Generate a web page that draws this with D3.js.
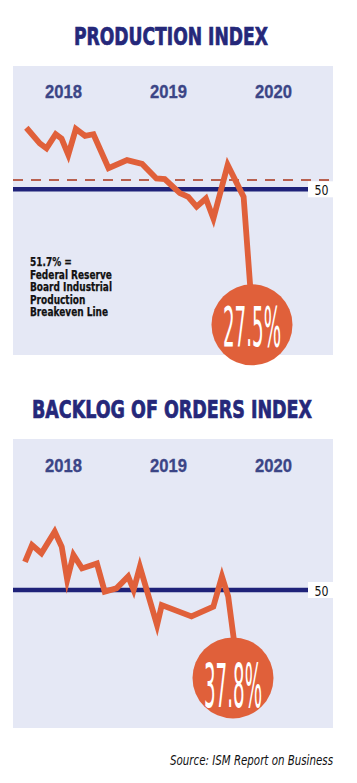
<!DOCTYPE html>
<html>
<head>
<meta charset="utf-8">
<script src="https://cdn.jsdelivr.net/npm/d3@7"></script>
<style>
  html, body { margin: 0; padding: 0; background: #ffffff; }
  svg { display: block; }
</style>
</head>
<body>
<svg id="chart" width="357" height="783"></svg>
<script>
// ---------- DATA ----------
const years = ["2018", "2019", "2020"];
const baselineValue = 50;
const breakevenValue = 51.7;

// Production index: month offset from Jan 2018, index value
const prodMonths = [0.1, 1.7, 2.5, 3.6, 4.3, 5.1, 6.0, 7.1, 8.1, 9.9, 12.1, 13.9, 15.6, 16.6, 18.4, 19.4, 20.4, 21.5, 22.4, 24.1, 26.0, 27];
const prodValues = [61.4, 58.5, 57.6, 60.2, 59.4, 56.4, 61.2, 59.9, 60.2, 53.9, 55.4, 54.7, 52.0, 51.9, 49.3, 48.6, 46.8, 48.3, 44.6, 54.5, 48.6, 27.5];

// Backlog of orders index
const backlogMonths = [0, 0.9, 2.1, 3.8, 4.7, 5.4, 6.2, 7.3, 9.2, 10.2, 11.7, 13.2, 13.9, 14.7, 16.9, 17.5, 21.3, 24.1, 25.2, 26.0, 27];
const backlogValues = [55.2, 58.3, 56.8, 60.8, 58.0, 51.9, 56.5, 54.0, 54.9, 49.7, 50.3, 52.5, 50.0, 54.3, 43.5, 47.2, 45.1, 46.9, 52.5, 48.8, 37.8];

const noteLines = ["51.7% =", "Federal Reserve", "Board Industrial", "Production", "Breakeven Line"];
const sourceText = "Source: ISM Report on Business";

// ---------- STYLE ----------
const NAVY = "#25287a";
const YEAR = "#3b4586";
const PANEL = "#e5e8f5";
const ORANGE = "#e0603a";
const DASH = "#b8604f";
const BLUE = "#1f2279";
const NARROW = "'Liberation Sans Narrow', 'DejaVu Sans Condensed', 'Arial Narrow', sans-serif";

const svg = d3.select("#chart");

function drawPanel(cfg) {
  const g = svg.append("g");

  // title
  g.append("text")
    .attr("x", cfg.titleX).attr("y", cfg.titleY)
    .attr("text-anchor", "middle")
    .attr("font-family", NARROW).attr("font-weight", "bold")
    .attr("font-size", 25).attr("fill", NAVY)
    .attr("stroke", NAVY).attr("stroke-width", 0.7)
    .attr("textLength", cfg.titleW).attr("lengthAdjust", "spacingAndGlyphs")
    .text(cfg.title);

  // panel background
  g.append("rect")
    .attr("x", 13).attr("y", cfg.panelTop)
    .attr("width", 320).attr("height", 289)
    .attr("fill", PANEL);

  // year labels
  const xYear = d3.scalePoint().domain(years).range([63.5, 273.5]);
  g.selectAll("text.year").data(years).enter().append("text")
    .attr("class", "year")
    .attr("x", d => xYear(d)).attr("y", cfg.yearY)
    .attr("text-anchor", "middle")
    .attr("font-family", "'Liberation Sans', Arial, sans-serif").attr("font-weight", "bold")
    .attr("font-size", 18).attr("fill", YEAR)
    .attr("stroke", YEAR).attr("stroke-width", 0.3)
    .attr("textLength", 37).attr("lengthAdjust", "spacingAndGlyphs")
    .text(d => d);

  const x = d3.scaleLinear().domain([0, 27]).range(cfg.xRange);
  const y = d3.scaleLinear().domain([50, 60]).range([cfg.y50, cfg.y50 - 54]);

  // breakeven dashed line
  if (cfg.breakeven) {
    g.append("line")
      .attr("x1", 13).attr("x2", 333)
      .attr("y1", y(breakevenValue)).attr("y2", y(breakevenValue))
      .attr("stroke", DASH).attr("stroke-width", 2)
      .attr("stroke-dasharray", "10,8");
  }

  // 50 line
  g.append("line")
    .attr("x1", 13).attr("x2", 308)
    .attr("y1", y(baselineValue)).attr("y2", y(baselineValue))
    .attr("stroke", BLUE).attr("stroke-width", 4.5);

  // 50 label box
  g.append("rect")
    .attr("x", 308).attr("y", y(baselineValue) - 8)
    .attr("width", 25).attr("height", 16)
    .attr("fill", "#ffffff");
  g.append("text")
    .attr("x", 321.5).attr("y", y(baselineValue) + 6)
    .attr("text-anchor", "middle")
    .attr("font-family", NARROW)
    .attr("font-size", 14).attr("fill", "#111")
    .attr("textLength", 14).attr("lengthAdjust", "spacingAndGlyphs")
    .text(String(baselineValue));

  // line
  const pts = cfg.months.map((m, i) => [m, cfg.values[i]]);
  const line = d3.line().x(d => x(d[0])).y(d => y(d[1]));
  g.append("path")
    .attr("d", line(pts))
    .attr("fill", "none")
    .attr("stroke", ORANGE).attr("stroke-width", 5.8)
    .attr("stroke-linejoin", "miter").attr("stroke-miterlimit", 6);

  // end bubble
  const last = pts[pts.length - 1];
  const cx = x(last[0]) + cfg.bubbleDx, cy = y(last[1]) + cfg.bubbleDy;
  g.append("circle")
    .attr("cx", cx).attr("cy", cy).attr("r", 40.5)
    .attr("fill", ORANGE);
  g.append("text")
    .attr("x", cx).attr("y", cy + cfg.bubbleTextDy)
    .attr("text-anchor", "middle")
    .attr("font-family", NARROW)
    .attr("font-size", cfg.bubbleFont).attr("fill", "#ffffff")
    .attr("textLength", 58).attr("lengthAdjust", "spacingAndGlyphs")
    .text(last[1].toFixed(1) + "%");

  return g;
}

drawPanel({
  title: "PRODUCTION INDEX", titleX: 171, titleY: 45, titleW: 194,
  panelTop: 66, yearY: 98,
  xRange: [25.5, 252], y50: 189.3, breakeven: true,
  months: prodMonths, values: prodValues,
  bubbleDx: 0, bubbleDy: 14, bubbleTextDy: 21, bubbleFont: 56
});

drawPanel({
  title: "BACKLOG OF ORDERS INDEX", titleX: 172, titleY: 418, titleW: 280,
  panelTop: 439, yearY: 472,
  xRange: [25, 236], y50: 590, breakeven: false,
  months: backlogMonths, values: backlogValues,
  bubbleDx: -3, bubbleDy: 22, bubbleTextDy: 29, bubbleFont: 60
});

// annotation note
const note = svg.append("g");
const noteTexts = note.selectAll("text").data(noteLines).enter().append("text")
  .attr("x", 30).attr("y", (d, i) => 266 + i * 12.6)
  .attr("font-family", NARROW).attr("font-weight", "bold")
  .attr("font-size", 13).attr("fill", "#111")
  .attr("stroke", "#111").attr("stroke-width", 0.25)
  .text(d => d);
// condense uniformly so that the widest line fits the reference width
let maxW = 0;
noteTexts.each(function() { maxW = Math.max(maxW, this.getComputedTextLength()); });
const factor = 82 / maxW;
noteTexts.each(function() {
  const w = this.getComputedTextLength();
  d3.select(this).attr("textLength", w * factor).attr("lengthAdjust", "spacingAndGlyphs");
});

// source
svg.append("text")
  .attr("x", 333).attr("y", 765)
  .attr("text-anchor", "end")
  .attr("font-family", NARROW).attr("font-style", "italic")
  .attr("font-size", 13.5).attr("fill", "#111")
  .attr("textLength", 163).attr("lengthAdjust", "spacingAndGlyphs")
  .text(sourceText);
</script>
</body>
</html>
